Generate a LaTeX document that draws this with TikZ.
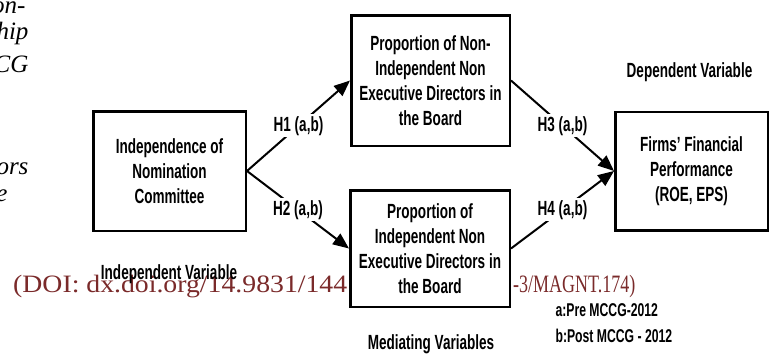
\documentclass[tikz,border=0pt]{standalone}
\usepackage{graphicx}
\usepackage{fontspec}
\usepackage{tikz}
\usetikzlibrary{positioning}
\usetikzlibrary{arrows.meta}
\newfontfamily\diagfont{Liberation Sans}[FakeStretch=0.66]
\newfontfamily\capfont{Liberation Serif}
\definecolor{doired}{RGB}{122,42,42}

\begin{document}
\begin{tikzpicture}[x=1pt, y=-1pt,
    varbox/.style={draw, line width=2.5pt, fill=white, align=center, inner sep=2pt, font=\diagfont\bfseries\fontsize{20.5}{25}\selectfont},
    hyp/.style={line width=2pt, -{Triangle[length=16pt, width=13pt]}},
    hlabel/.style={fill=white, inner sep=2pt, font=\diagfont\bfseries\fontsize{20.5}{25}\selectfont},
    vartext/.style={anchor=base, font=\diagfont\bfseries\fontsize{20.5}{25}\selectfont},
    notetext/.style={anchor=base west, font=\diagfont\bfseries\fontsize{18.5}{24}\selectfont},
    captext/.style={anchor=base east, font=\capfont\itshape\fontsize{25}{30}\selectfont},
    doitext/.style={anchor=base west, text=doired, inner sep=0pt, font=\capfont\fontsize{25}{30}\selectfont}]

    \useasboundingbox (0,0) rectangle (770,354);
    \clip (0,0) rectangle (770,354);

    \node[captext] (cap1) at (29,13) {on-};
    \node[captext] (cap2) at (32,39) {hip};
    \node[captext] (cap3) at (32,72) {CG};
    \node[captext] (cap4) at (32,174) {ors};
    \node[captext] (cap5) at (11,201) {e};

    \node[doitext] (doia) at (13,292.5) {\scalebox{1.11}[1]{(DOI: dx.doi.org/14.9831/144}};
    \node[doitext] (doib) at (513,292.5) {\scalebox{0.72}[1]{-3/MAGNT.174)}};

    \node[varbox, minimum width=152.5pt, minimum height=119.5pt] (nc) at (169.5,171) {Independence of\\Nomination\\Committee};
    \node[varbox, minimum width=158.5pt, minimum height=130.5pt] (nined) at (430.5,80.5) {Proportion of Non-\\Independent Non\\Executive Directors in\\the Board};
    \node[varbox, minimum width=159.5pt, minimum height=116.5pt] (ined) at (430,248.5) {Proportion of\\Independent Non\\Executive Directors in\\the Board};
    \node[varbox, minimum width=152.5pt, minimum height=118.5pt, right=367pt of nc] (ffp) {Firms’ Financial\\Performance\\(ROE, EPS)};

    \draw[hyp] (nc.east) -- node[hlabel] {H1 (a,b)} (nined.west);
    \draw[hyp] (nc.east) -- node[hlabel] {H2 (a,b)} (ined.west);
    \draw[hyp] (nined.east) -- node[hlabel] {H3 (a,b)} (ffp.west);
    \draw[hyp] (ined.east) -- node[hlabel] {H4 (a,b)} (ffp.west);

    \node[vartext] (ivar) at (169,279) {Independent Variable};
    \node[vartext] (dvar) at (689.5,77.5) {Dependent Variable};
    \node[vartext] (mvar) at (431,349.5) {Mediating Variables};

    \node[notetext] (pre) at (552,316.5) {a:Pre MCCG-2012};
    \node[notetext] (post) at (552,342) {b:Post MCCG - 2012};

\end{tikzpicture}
\end{document}
